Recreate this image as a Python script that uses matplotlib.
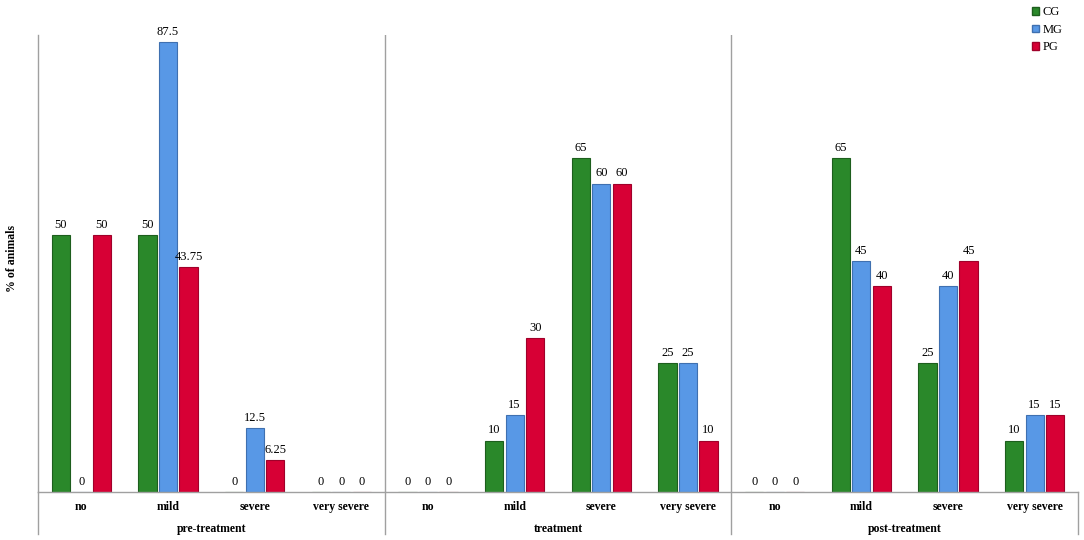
import matplotlib.pyplot as plt
from matplotlib.patches import Patch

plt.rcParams['font.family'] = ['Liberation Serif', 'DejaVu Serif']

phases = ['pre-treatment', 'treatment', 'post-treatment']
severity = ['no', 'mild', 'severe', 'very severe']
groups = ['CG', 'MG', 'PG']
colors = ['#2a882a', '#5898e6', '#d70035']
edges = ['#1d5e1d', '#3f70b0', '#a0002a']

# values per phase, in severity order
cg = [50, 50, 0, 0, 0, 10, 65, 25, 0, 65, 25, 10]
mg = [0, 87.5, 12.5, 0, 0, 15, 60, 25, 0, 45, 40, 15]
pg = [50, 43.75, 6.25, 0, 0, 30, 60, 10, 0, 40, 45, 15]
series = [cg, mg, pg]


def fmt(v):
    return f'{v:g}'


W, H = 1084, 540
fig = plt.figure(figsize=(W / 100, H / 100), dpi=100)
ax = fig.add_axes([38 / W, (H - 492) / H, (1078 - 38) / W, (492 - 35) / H])

n = len(cg)
xs = [i + 0.5 for i in range(n)]
offs = [-0.237, 0, 0.237]
for vals, off, c, ec in zip(series, offs, colors, edges):
    pos = [x + off for x in xs]
    ax.bar(pos, vals, width=0.21, color=c, edgecolor=ec, linewidth=0.8)
    for p, v in zip(pos, vals):
        ax.text(p, v + 0.8, fmt(v), ha='center', va='bottom', fontsize=9)

ax.set_xlim(0, n)
ax.set_ylim(0, 88.9)
ax.set_xticks([])
ax.set_yticks([])
for s in ['top', 'right']:
    ax.spines[s].set_visible(False)
for s in ['left', 'bottom']:
    ax.spines[s].set_color('#a0a0a0')
    ax.spines[s].set_linewidth(1)

tr = ax.get_xaxis_transform()
for k in range(1, len(phases)):
    ax.axvline(4 * k, color='#a0a0a0', lw=1, ymin=0, ymax=1.004)
for k in range(len(phases) + 1):
    ax.plot([4 * k, 4 * k], [0, -0.092], transform=tr, color='#a0a0a0',
            lw=1, clip_on=False)

for i, x in enumerate(xs):
    ax.text(x, -0.033, severity[i % 4], transform=tr, ha='center', va='center',
            fontsize=8.5, fontweight='bold')
for k, ph in enumerate(phases):
    ax.text(4 * k + 2, -0.08, ph, transform=tr, ha='center', va='center',
            fontsize=8.5, fontweight='bold')

fig.text(12 / W, (H - 258) / H, '% of animals', rotation=90, ha='center',
         va='center', fontsize=8.5, fontweight='bold')

handles = [Patch(facecolor=c, edgecolor=ec, label=g)
           for g, c, ec in zip(groups, colors, edges)]
fig.legend(handles=handles, loc='upper left', bbox_to_anchor=(1026 / W, 1.0),
           frameon=False, fontsize=9, handlelength=0.55, handleheight=0.55,
           handletextpad=0.3, labelspacing=0.45, borderaxespad=0.1)

fig.savefig('out.png', dpi=100)
